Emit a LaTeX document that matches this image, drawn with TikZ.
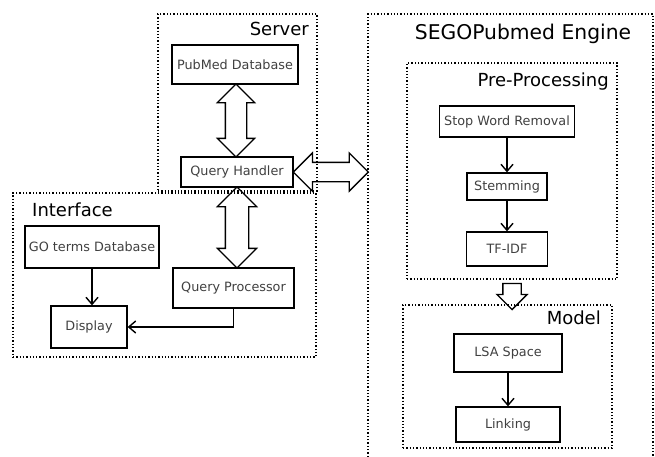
\documentclass[tikz,border=0pt]{standalone}
\usepackage{fontspec}
\setmainfont{DejaVu Sans}
\usetikzlibrary{arrows.meta,calc,positioning,shapes.arrows}

\tikzset{
  box/.style={draw,line width=1.3pt,text=black!75,inner sep=0pt,font=\fontsize{12.8}{14}\selectfont},
  frame/.style={draw,dotted,line width=1.3pt,inner sep=0pt},
  heading/.style={font=\fontsize{18}{20}\selectfont,inner sep=0pt},
  link/.style={line width=1.4pt,-{Straight Barb[length=7pt,width=12pt,line width=1.4pt]}},
  dblarrow/.style={double arrow,draw,line width=1.3pt,inner xsep=0pt,double arrow head extend=8pt},
  sglarrow/.style={single arrow,draw,line width=1.3pt,inner xsep=0pt,single arrow head extend=6pt}
}

\begin{document}
\begin{tikzpicture}[x=1pt,y=-1pt]
        \useasboundingbox (0,0) rectangle (655,456);
        % frames
        \node[frame,minimum width=159,minimum height=177] (server) at (237.5,102.5) {};
        \node[frame,minimum width=303,minimum height=164] (interface) at (164.5,275) {};
        \node[frame,minimum width=210,minimum height=216] (pre) at (512,171) {};
        \node[frame,minimum width=209,minimum height=143] (model) at (507.5,376.5) {};
        \coordinate (engine) at (368,14);
        \draw[frame] (engine |- 0,470) -- (engine) -- (653,14) -- (653,470);
        \node[heading,anchor=east] (servertitle) at (309,29) {Server};
        \node[heading,anchor=west] (interfacetitle) at (32,210) {Interface};
        \node[heading,font=\fontsize{20.3}{22}\selectfont] (enginetitle) at (523,34) {SEGOPubmed Engine};
        \node[heading,anchor=east] (pretitle) at (609,82) {Pre-Processing};
        \node[heading,anchor=east] (modeltitle) at (601,318) {Model};
        % boxes
        \node[box,minimum width=126,minimum height=39] (pubmed) at (235,64.5) {PubMed Database};
        \node[box,minimum width=112,minimum height=30] (handler) at (237,172) {Query Handler};
        \node[box,minimum width=134,minimum height=42] (goterms) at (92,247) {GO terms Database};
        \node[box,minimum width=121,minimum height=40] (processor) at (233.5,288) {Query Processor};
        \node[box,minimum width=76,minimum height=42] (display) at (89,327) {Display};
        \node[box,minimum width=135,minimum height=31] (stopword) at (507,121.5) {Stop Word Removal};
        \node[box,minimum width=80,minimum height=27] (stemming) at (507,186.5) {Stemming};
        \node[box,minimum width=81,minimum height=34] (tfidf) at (507,249) {TF-IDF};
        \node[box,minimum width=108,minimum height=38] (lsa) at (508,353) {LSA Space};
        \node[box,minimum width=104,minimum height=35] (linking) at (508,424.5) {Linking};
        % block arrows
        \node[dblarrow,rotate=90,minimum height=73,inner ysep=10pt] (pubmedhandler) at ($(pubmed.south)!.5!(handler.north)$) {};
        \node[dblarrow,rotate=90,minimum height=81,inner ysep=11pt] (handlerprocessor) at ($(handler.south)!.5!(handler.south |- processor.north)$) {};
        \node[dblarrow,double arrow head extend=9.5pt,minimum height=75,inner ysep=9pt] (handlerengine) at ($(handler.east)!.5!(handler.east -| engine)$) {};
        \node[sglarrow,rotate=-90,minimum height=26,inner ysep=8.5pt] (premodel) at ($(pre.south)!.5!(pre.south |- model.north)$) {};
        % links
        \draw[link] (goterms.south) -- (goterms.south |- display.north);
        \draw[link] (processor.south) |- (display.east);
        \foreach \a/\b in {stopword/stemming,stemming/tfidf,lsa/linking}
          \draw[link] (\a.south) -- (\a.south |- \b.north);
\end{tikzpicture}
\end{document}
